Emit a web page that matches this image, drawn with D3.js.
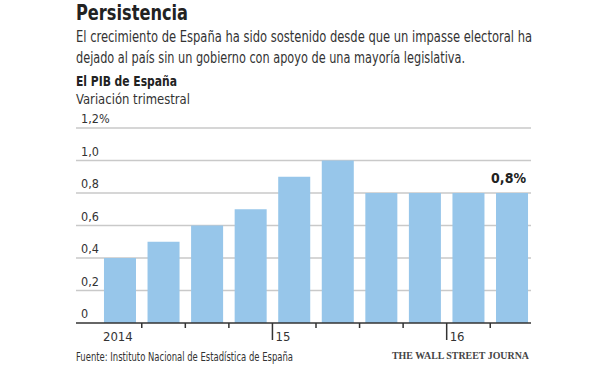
<!DOCTYPE html>
<html>
<head>
<meta charset="utf-8">
<script src="https://cdn.jsdelivr.net/npm/d3@7"></script>
<style>
  body { margin: 0; background: #fff; }
  svg text { font-family: "DejaVu Sans Condensed", "Liberation Sans Narrow", sans-serif; fill: #333; }
</style>
</head>
<body>
<div id="chart"></div>
<script>
var quarters = ['2014T1', '2014T2', '2014T3', '2014T4', '2015T1', '2015T2', '2015T3', '2015T4', '2016T1', '2016T2'];
var values = [0.4, 0.5, 0.6, 0.7, 0.9, 1.0, 0.8, 0.8, 0.8, 0.8];
var yTicks = [0, 0.2, 0.4, 0.6, 0.8, 1.0, 1.2];
var yearLabels = [{ q: '2014T1', text: '2014' }, { q: '2015T1', text: '15' }, { q: '2016T1', text: '16' }];

var W = 600, H = 370;
var plotL = 76, plotR = 531, plotT = 128, plotB = 323;

var svg = d3.select('#chart').append('svg').attr('width', W).attr('height', H);

// text squeezed to the width it has in the reference (condensed face)
var label = function(xp, yp, str, size, width, bold) {
  var t = svg.append('text').attr('x', xp).attr('y', yp).text(str).style('font-size', size + 'px');
  if (bold) t.style('font-weight', 'bold').style('fill', '#222');
  if (width) t.attr('textLength', width).attr('lengthAdjust', 'spacingAndGlyphs');
  return t;
};

// Titles
label(76, 20, 'Persistencia', 21, 112, true);
label(76, 42, 'El crecimiento de España ha sido sostenido desde que un impasse electoral ha', 15, 456);
label(76, 63, 'dejado al país sin un gobierno con apoyo de una mayoría legislativa.', 15, 389);
label(76, 86, 'El PIB de España', 14, 101, true);
label(76, 104, 'Variación trimestral', 14, 114);

var x = d3.scaleBand().domain(quarters).range([98.2, 533.8]).paddingInner(0.265).paddingOuter(0.1325);
var y = d3.scaleLinear().domain([0, 1.2]).range([plotB, plotT]);

// gridlines + labels
var fmt = function(d) { return d === 0 ? '0' : d3.format('.1f')(d).replace('.', ',') + (d === 1.2 ? '%' : ''); };
svg.selectAll('line.grid').data(yTicks.filter(function(d) { return d > 0; })).enter()
    .append('line').attr('class', 'grid')
    .attr('x1', plotL).attr('x2', plotR)
    .attr('y1', function(d) { return y(d); }).attr('y2', function(d) { return y(d); })
    .attr('stroke', '#c9c9c9').attr('stroke-width', 1.5);
svg.selectAll('text.ylab').data(yTicks).enter()
    .append('text').attr('class', 'ylab')
    .attr('x', 81).attr('y', function(d) { return y(d) - 5; })
    .text(fmt).style('font-size', '12.5px');

// bars
svg.selectAll('rect.bar').data(values).enter()
    .append('rect').attr('class', 'bar')
    .attr('x', function(d, i) { return x(quarters[i]); })
    .attr('width', x.bandwidth())
    .attr('y', function(d) { return y(d); })
    .attr('height', function(d) { return y(0) - y(d); })
    .attr('fill', '#97c6ea');

// axis line
svg.append('line').attr('x1', plotL).attr('x2', plotR).attr('y1', plotB).attr('y2', plotB)
    .attr('stroke', '#333').attr('stroke-width', 1.5);

// ticks between quarters
var step = x.step();
var gap = (step - x.bandwidth()) / 2;
svg.selectAll('line.tick').data(quarters.slice(1)).enter()
    .append('line').attr('class', 'tick')
    .attr('x1', function(q) { return x(q) - gap; })
    .attr('x2', function(q) { return x(q) - gap; })
    .attr('y1', plotB)
    .attr('y2', function(q) { return /T1$/.test(q) ? plotB + 17 : plotB + 5; })
    .attr('stroke', '#333').attr('stroke-width', 1.5);

// year labels
svg.selectAll('text.year').data(yearLabels).enter()
    .append('text').attr('class', 'year')
    .attr('x', function(d) { return d.text === '2014' ? x(d.q) - 1 : x(d.q) - gap + 3; })
    .attr('y', 341).text(function(d) { return d.text; })
    .style('font-size', '13px');

// last value label
var last = values.length - 1;
svg.append('text').attr('x', x(quarters[last]) + x.bandwidth() - 2).attr('y', y(values[last]) - 10)
    .attr('text-anchor', 'end').text(d3.format('.1f')(values[last]).replace('.', ',') + '%')
    .style('font-size', '14px').style('font-weight', 'bold').style('fill', '#222');

// footer
label(76, 361, 'Fuente: Instituto Nacional de Estadística de España', 12, 217);
label(392, 359, 'THE WALL STREET JOURNA', 11, 137)
    .style('font-family', '"Liberation Serif", "DejaVu Serif", serif')
    .style('font-weight', 'bold').style('fill', '#444');
</script>
</body>
</html>
